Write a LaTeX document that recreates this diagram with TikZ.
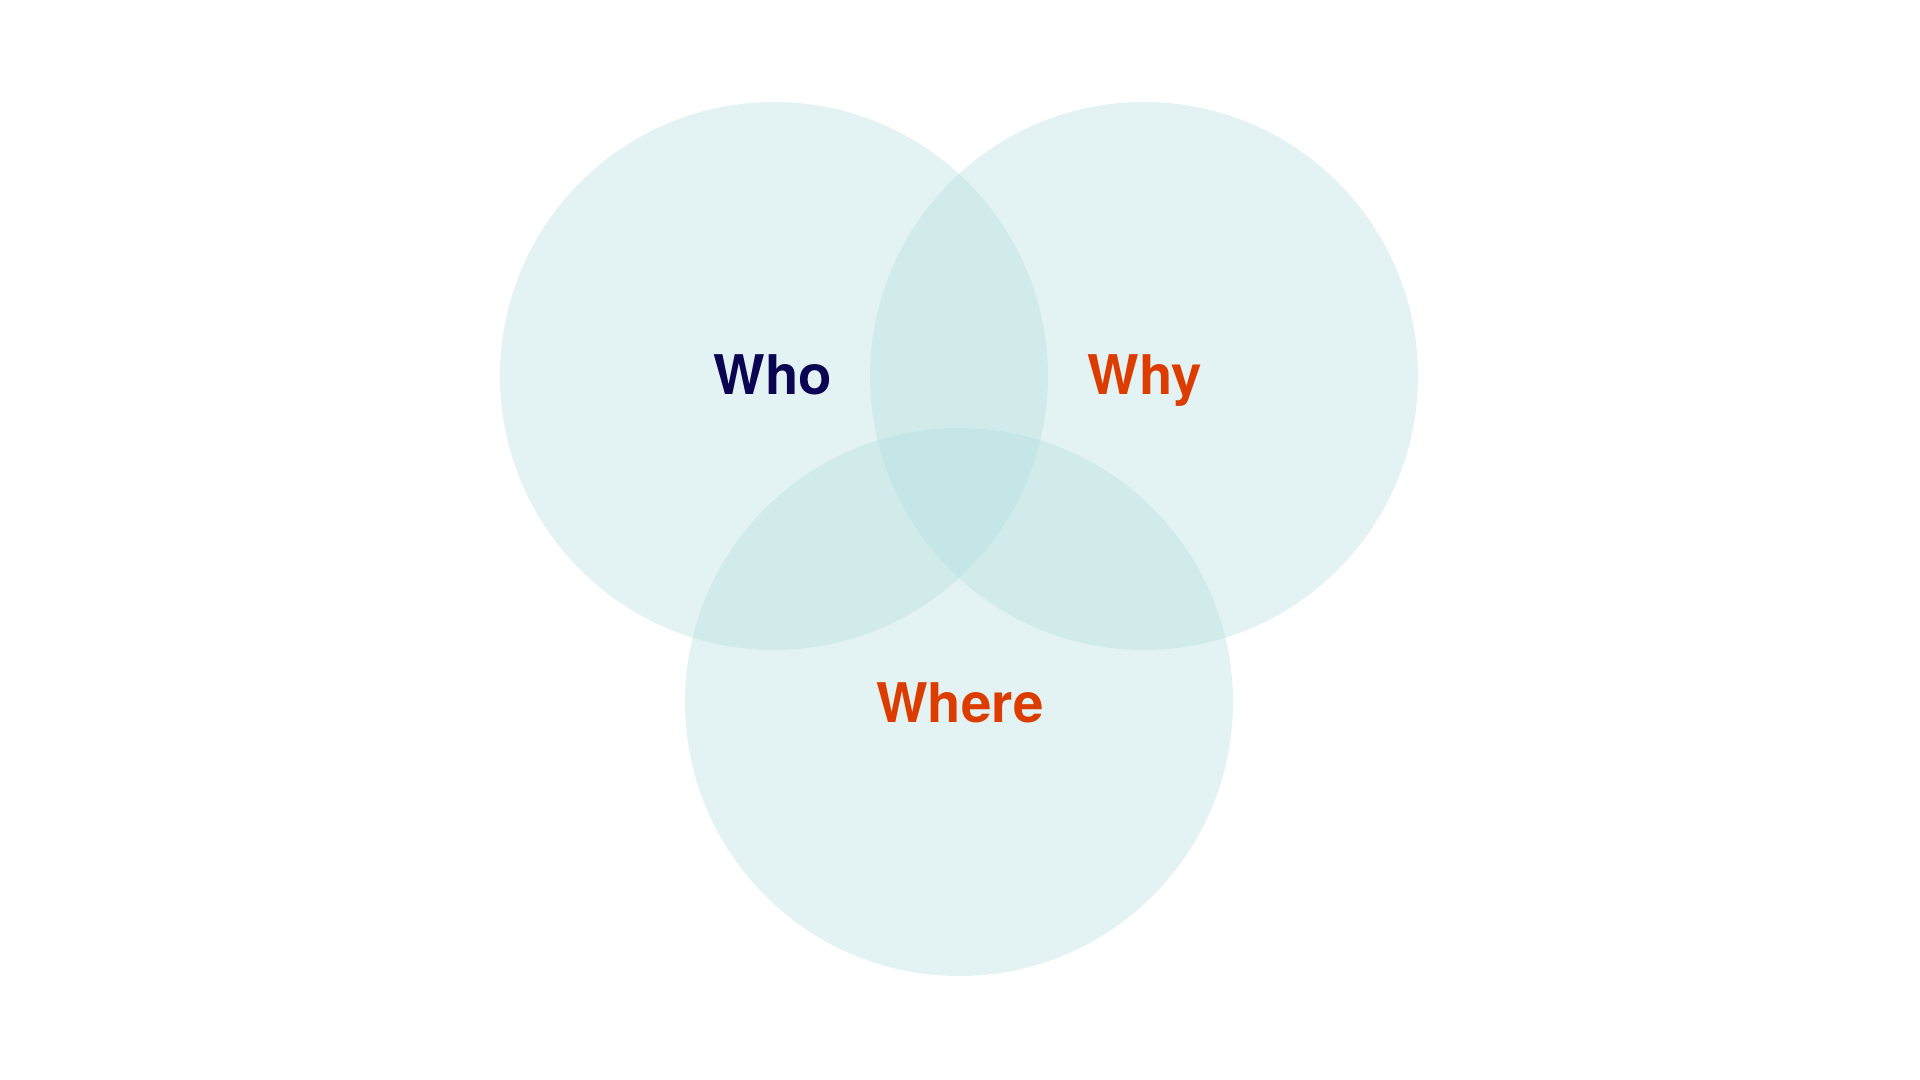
\documentclass[tikz,border=0pt]{standalone}
\usepackage{fontspec}
\setmainfont{TeX Gyre Heros}
\definecolor{vennteal}{RGB}{175,221,221}
\definecolor{whonavy}{RGB}{10,4,82}
\definecolor{whyred}{RGB}{221,60,0}
\tikzset{every picture/.style={line width=0.75pt}}
\tikzset{
  venn/.style={circle, minimum size=411pt, inner sep=0pt, fill=vennteal, fill opacity=0.35, draw=none},
  word/.style={anchor=base, inner sep=0pt, text opacity=1, font=\fontsize{41pt}{49pt}\selectfont\bfseries}
}
\begin{document}
\begin{tikzpicture}[x=0.75pt,y=0.75pt,yscale=-1,xscale=1]
\path[use as bounding box] (0,0) rectangle (1920,1080);

%Shape: Circle [id:who]
\node (cwho) [venn] at (774,376) {};
%Shape: Circle [id:why]
\node (cwhy) [venn] at (1144,376) {};
%Shape: Circle [id:where]
\node (cwhere) [venn] at (959,702) {};

% Text Node
\node (who) [word, text=whonavy] at (773,395) {Who};
% Text Node
\node (why) [word, text=whyred] at (1145,395) {Why};
% Text Node
\node (where) [word, text=whyred] at (960,722) {Where};

\end{tikzpicture}
\end{document}
